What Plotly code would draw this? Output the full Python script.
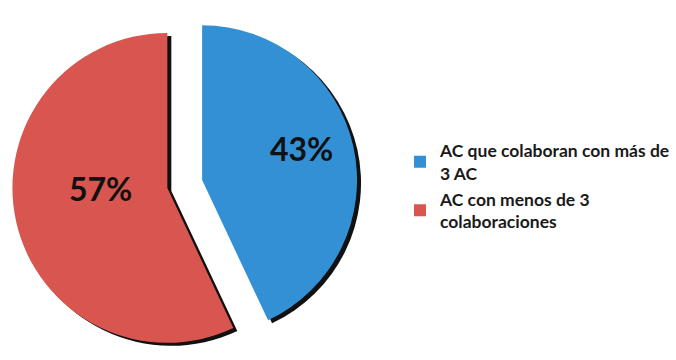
import plotly.graph_objects as go

# Share of AC by number of collaborations
labels = ["AC que colaboran con más de<br>3 AC", "AC con menos de 3<br>colaboraciones"]
values = [43, 57]
colors = ["#3490d5", "#d8564f"]

W, H = 676, 360
pull = [0.115, 0.115]

# pie area (pixels) and a small drop-shadow offset
cx, cy, half = 185, 184, 173
dx, dy = 4, 3

# where the percentage labels sit (pixels)
label_pos = [(302, 148), (101, 188)]


def dom(ox, oy):
    return dict(
        x=[(cx - half + ox) / W, (cx + half + ox) / W],
        y=[1 - (cy + half + oy) / H, 1 - (cy - half + oy) / H],
    )


fig = go.Figure()

# dark shadow copy behind the slices
fig.add_trace(go.Pie(
    labels=labels, values=values, sort=False, direction="clockwise", rotation=0,
    pull=pull, domain=dom(dx, dy),
    marker=dict(colors=["#111111"] * len(values), line=dict(width=0)),
    textinfo="none", hoverinfo="skip", showlegend=False,
))

fig.add_trace(go.Pie(
    labels=labels, values=values, sort=False, direction="clockwise", rotation=0,
    pull=pull, domain=dom(0, 0), marker=dict(colors=colors, line=dict(width=0)),
    textinfo="none", showlegend=True,
))

for v, (px, py) in zip(values, label_pos):
    fig.add_annotation(
        x=px / W, y=1 - py / H, xref="paper", yref="paper",
        xanchor="center", yanchor="middle",
        text=f"{v}%", showarrow=False,
        font=dict(family="Lato", size=32, color="#111111", weight="bold"),
    )

fig.update_layout(
    width=W, height=H,
    margin=dict(l=0, r=0, t=0, b=0),
    paper_bgcolor="white",
    legend=dict(
        x=0.593, y=0.632, xanchor="left", yanchor="top",
        font=dict(family="Lato", size=17.5, color="#1a1a1a", weight="bold"),
        itemwidth=30, traceorder="normal",
    ),
)

fig.write_html("out.html")
